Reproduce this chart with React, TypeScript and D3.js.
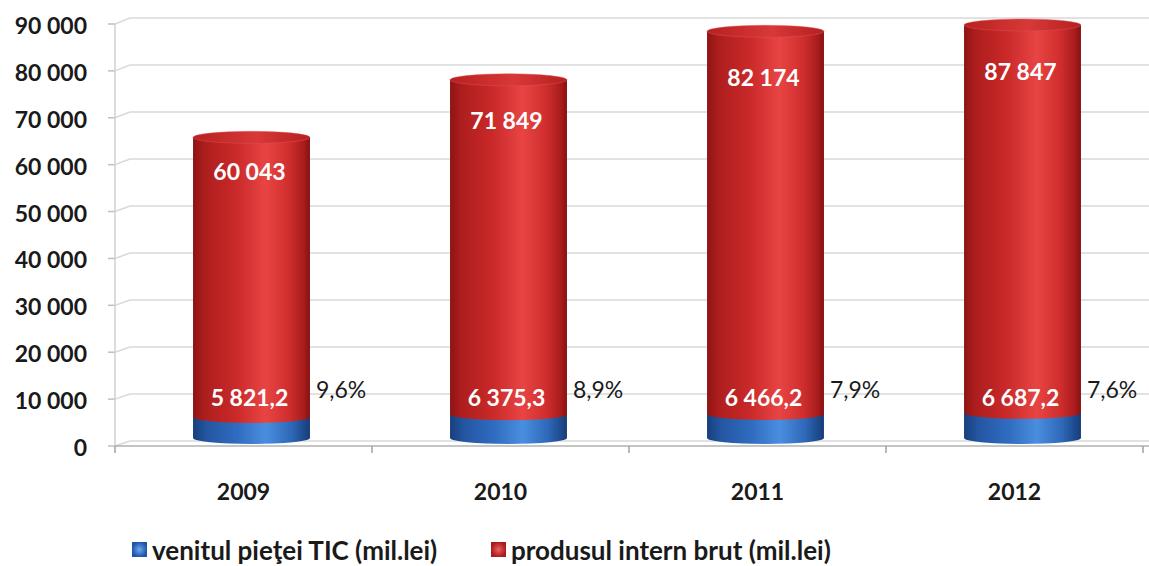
import React from 'react';
import * as d3 from 'd3';

const years = ['2009', '2010', '2011', '2012'];
const ticValues = [5821.2, 6375.3, 6466.2, 6687.2];
const pibValues = [60043, 71849, 82174, 87847];
const shareLabels = ['9,6%', '8,9%', '7,9%', '7,6%'];
const yTicks = [0, 10000, 20000, 30000, 40000, 50000, 60000, 70000, 80000, 90000];
const seriesNames = ['venitul pieţei TIC (mil.lei)', 'produsul intern brut (mil.lei)'];

const W = 1149;
const H = 566;
const FONT = "Lato, 'Open Sans', sans-serif";

const locale = d3.formatLocale({ decimal: ',', thousands: '\u00a0', grouping: [3], currency: ['', ''] });
const fmtInt = locale.format(',.0f');
const fmtDec = locale.format(',.1f');

export default function App() {
  const yMax = 90000;
  const axisX = 115;
  const plotRight = W;
  const yFront = d3.scaleLinear().domain([0, yMax]).range([446, 24]);
  const yWall = d3.scaleLinear().domain([0, yMax]).range([441, 18]);
  const yCyl = d3.scaleLinear().domain([0, yMax]).range([444, 25]);
  const x = d3.scaleBand<string>().domain(years).range([axisX, 1143]).paddingInner(0.545).paddingOuter(0.2725);
  const depth = 8;
  const rx = x.bandwidth() / 2;
  const ry = 6;

  const cylBody = (cx: number, yTop: number, yBot: number) =>
    `M${cx - rx},${yTop} L${cx - rx},${yBot} A${rx},${ry} 0 0 0 ${cx + rx},${yBot} L${cx + rx},${yTop} Z`;

  return (
    <svg width={W} height={H} style={{ position: 'absolute', left: 0, top: 0, background: '#fff' }} fontFamily={FONT}>
      <defs>
        <linearGradient id="redBody" x1="0" x2="1" y1="0" y2="0">
          <stop offset="0%" stopColor="#8e1414" />
          <stop offset="10%" stopColor="#ae1e1e" />
          <stop offset="35%" stopColor="#c82828" />
          <stop offset="62%" stopColor="#e84444" />
          <stop offset="82%" stopColor="#d02e2e" />
          <stop offset="95%" stopColor="#a81c1c" />
          <stop offset="100%" stopColor="#881010" />
        </linearGradient>
        <linearGradient id="redTop" x1="0" x2="1" y1="0" y2="0">
          <stop offset="0%" stopColor="#b82020" />
          <stop offset="55%" stopColor="#d83838" />
          <stop offset="100%" stopColor="#b42020" />
        </linearGradient>
        <linearGradient id="blueBody" x1="0" x2="1" y1="0" y2="0">
          <stop offset="0%" stopColor="#183f7c" />
          <stop offset="12%" stopColor="#2456a2" />
          <stop offset="38%" stopColor="#2f6cc0" />
          <stop offset="62%" stopColor="#4a8ee0" />
          <stop offset="84%" stopColor="#2e68b8" />
          <stop offset="100%" stopColor="#173c78" />
        </linearGradient>
        <radialGradient id="legBlue">
          <stop offset="0%" stopColor="#6aaaf0" />
          <stop offset="100%" stopColor="#1f55a8" />
        </radialGradient>
        <radialGradient id="legRed">
          <stop offset="0%" stopColor="#f06060" />
          <stop offset="100%" stopColor="#a81c1c" />
        </radialGradient>
      </defs>

      {/* gridlines with 3D stubs */}
      {yTicks.map((t) => (
        <g key={t} stroke="#d9d9d9" strokeWidth={1.5} fill="none">
          <line x1={axisX - 7} x2={axisX} y1={yFront(t)} y2={yFront(t)} stroke="#bfbfbf" />
          <line x1={axisX} y1={yFront(t)} x2={axisX + 15} y2={yWall(t)} />
          <line x1={axisX + 15} x2={plotRight} y1={yWall(t)} y2={yWall(t)} />
        </g>
      ))}
      {/* vertical axis */}
      <line x1={axisX} x2={axisX} y1={yFront(yMax)} y2={yFront(0)} stroke="#d0d0d0" strokeWidth={1.5} />
      {/* front floor line */}
      <line x1={axisX} x2={plotRight} y1={yFront(0)} y2={yFront(0)} stroke="#b0b0b0" strokeWidth={1.5} />
      {/* category ticks */}
      {years.map((yr) => (
        <line key={yr} x1={x(yr)! - x.step() * x.paddingInner() / 2} x2={x(yr)! - x.step() * x.paddingInner() / 2}
          y1={yFront(0)} y2={yFront(0) + 7} stroke="#a0a0a0" strokeWidth={1.5} />
      ))}
      <line x1={1143} x2={1143} y1={yFront(0)} y2={yFront(0) + 7} stroke="#a0a0a0" strokeWidth={1.5} />

      {/* y labels */}
      {yTicks.map((t) => (
        <text key={t} x={87} y={yFront(t) + 1} textAnchor="end" dominantBaseline="central"
          fontSize={23} fontWeight="bold" fill="#1a1a1a">{fmtInt(t)}</text>
      ))}

      {/* cylinders */}
      {years.map((yr, i) => {
        const cx = x(yr)! + x.bandwidth() / 2 + depth;
        const base = yCyl(0);
        const blueTop = yCyl(ticValues[i]);
        const total = Math.min(ticValues[i] + pibValues[i], yMax);
        const redTop = yCyl(total);
        const labelY = redTop + 0.11 * (base - redTop);
        return (
          <g key={yr}>
            <path d={cylBody(cx, blueTop, base - ry)} fill="url(#blueBody)" />
            <path d={cylBody(cx, redTop, blueTop)} fill="url(#redBody)" />
            <ellipse cx={cx} cy={redTop} rx={rx} ry={ry} fill="url(#redTop)" stroke="#e25050" strokeWidth={0.8} strokeOpacity={0.6} />
            <text x={cx - 2} y={labelY} textAnchor="middle" dominantBaseline="central" fontSize={23}
              fontWeight="bold" fill="#fff">{fmtInt(pibValues[i])}</text>
            <text x={cx - 2} y={397} textAnchor="middle" dominantBaseline="central" fontSize={23}
              fontWeight="bold" fill="#fff">{fmtDec(ticValues[i])}</text>
            <text x={cx + rx + 6} y={389} textAnchor="start" dominantBaseline="central" fontSize={23}
              fill="#1a1a1a">{shareLabels[i]}</text>
          </g>
        );
      })}

      {/* x labels */}
      {years.map((yr) => (
        <text key={yr} x={x(yr)! + x.bandwidth() / 2} y={491} textAnchor="middle" dominantBaseline="central"
          fontSize={23} fontWeight="bold" fill="#1a1a1a">{yr}</text>
      ))}

      {/* legend */}
      <g>
        <rect x={132} y={542} width={15} height={15} fill="url(#legBlue)" />
        <text x={152} y={550} dominantBaseline="central" fontSize={26} fontWeight="bold" fill="#1a1a1a">{seriesNames[0]}</text>
        <rect x={491} y={542} width={15} height={15} fill="url(#legRed)" />
        <text x={511} y={550} dominantBaseline="central" fontSize={26} fontWeight="bold" fill="#1a1a1a">{seriesNames[1]}</text>
      </g>
    </svg>
  );
}
